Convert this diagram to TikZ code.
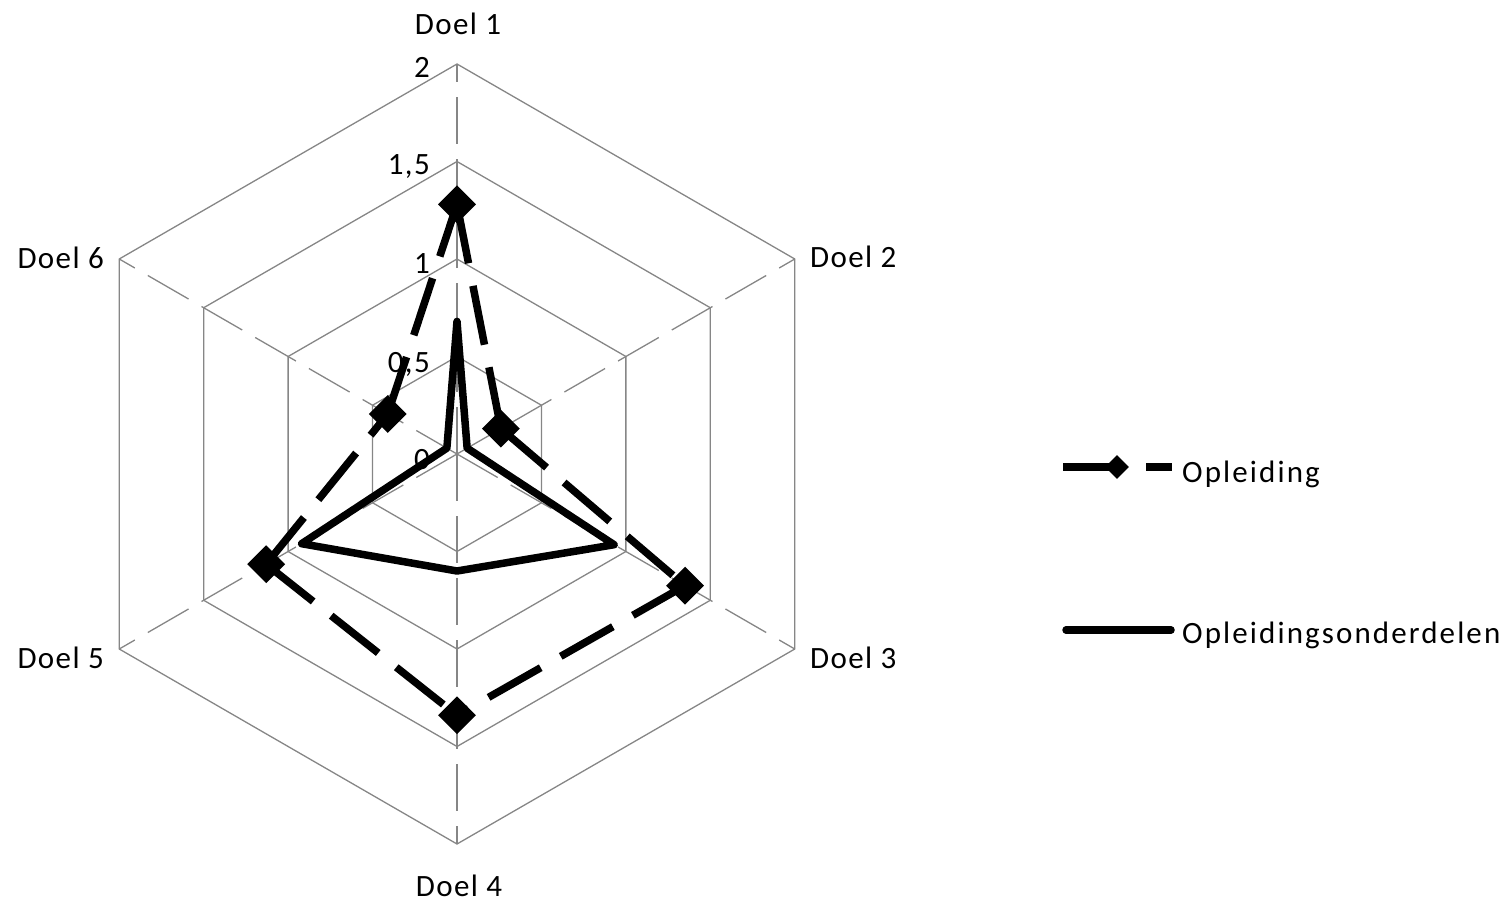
\documentclass[tikz,border=0pt]{standalone}
\usepackage{fontspec}
\setmainfont{Carlito}
\newfontfamily\lblfont[LetterSpace=4.5]{Carlito}
\newfontfamily\legfont[LetterSpace=6.8]{Carlito}
\usetikzlibrary{shapes.geometric}
\definecolor{gridgray}{RGB}{134,134,134}
\tikzset{
  gridline/.style={draw=gridgray,line width=1.3pt},
  axisline/.style={draw=gridgray,line width=1.3pt,dash pattern=on 47pt off 15pt},
  oplline/.style={draw=black,line width=7.5pt,dash pattern=on 60pt off 23pt},
  ondline/.style={draw=black,line width=7.5pt,line join=round},
  bigmark/.style={diamond,fill=black,inner sep=0pt,minimum width=38pt,minimum height=38pt},
  smallmark/.style={diamond,fill=black,inner sep=0pt,minimum width=24pt,minimum height=24pt},
  lbl/.style={font=\lblfont\fontsize{31}{37}\selectfont,inner sep=0pt},
  legtxt/.style={font=\legfont\fontsize{31}{37}\selectfont,inner sep=0pt},
}
\begin{document}
\begin{tikzpicture}[x=1pt,y=-1pt]
\useasboundingbox (0,0) rectangle (1511,901);
\coordinate (C) at (457,454);
\begin{scope}[shift={(C)}]
  % rings
  \foreach \r in {97.5,195,292.5,390}{
    \draw[gridline] (90:\r pt) -- (30:\r pt) -- (-30:\r pt) -- (-90:\r pt) -- (-150:\r pt) -- (150:\r pt) -- cycle;
  }
  % axes
  \foreach \a in {90,30,-30,-90,-150,150}{
    \draw[axisline] (0,0) -- (\a:390pt);
  }
  % data points
  \coordinate (o1) at (90:249.6pt);
  \coordinate (o2) at (30:50.7pt);
  \coordinate (o3) at (-30:263.3pt);
  \coordinate (o4) at (-90:261.3pt);
  \coordinate (o5) at (-150:220.4pt);
  \coordinate (o6) at (150:80pt);
  \coordinate (s1) at (90:132.6pt);
  \coordinate (s2) at (30:11.7pt);
  \coordinate (s3) at (-30:181.4pt);
  \coordinate (s4) at (-90:117pt);
  \coordinate (s5) at (-150:179.4pt);
  \coordinate (s6) at (150:11.7pt);
\end{scope}

% axis labels
\node[lbl,anchor=base] (d1) at (458,35) {Doel 1};
\node[lbl,anchor=base west] (d2) at (810,267) {Doel 2};
\node[lbl,anchor=base west] (d3) at (810,668) {Doel 3};
\node[lbl,anchor=base,text depth=0pt] (d4) at (459,896) {Doel 4};
\node[lbl,anchor=base east] (d5) at (104,668) {Doel 5};
\node[lbl,anchor=base east] (d6) at (104,268) {Doel 6};

% tick labels
\node[lbl,anchor=base east] (t4) at (430,78) {2};
\node[lbl,anchor=base east] (t3) at (430,175) {1,5};
\node[lbl,anchor=base east] (t2) at (430,273) {1};
\node[lbl,anchor=base east] (t1) at (430,372) {0,5};
\node[lbl,anchor=base east] (t0) at (430,469) {0};

% series Opleiding
\draw[oplline] (o1) -- (o2);
\draw[oplline] (o2) -- (o3);
\draw[oplline] (o3) -- (o4);
\draw[oplline] (o5) -- (o4);
\draw[oplline] (o5) -- (o6);
\draw[oplline] (o6) -- (o1);
\foreach \i in {1,...,6}{
  \node[bigmark] (m\i) at (o\i) {};
}

% series Opleidingsonderdelen
\draw[ondline] (s1) -- (s2) -- (s3) -- (s4) -- (s5) -- (s6) -- cycle;

% legend
\coordinate (la) at (1063,467);
\coordinate (lb) at (1172,467);
\draw[oplline] (la) -- (lb);
\node[smallmark] (lm) at (1117,467) {};
\node[legtxt,anchor=base west] (l1) at (1182,482) {Opleiding};
\coordinate (lc) at (1066,630);
\coordinate (ld) at (1171,630);
\draw[ondline,line cap=round] (lc) -- (ld);
\node[legtxt,anchor=base west] (l2) at (1182,643) {Opleidingsonderdelen};
\end{tikzpicture}
\end{document}
